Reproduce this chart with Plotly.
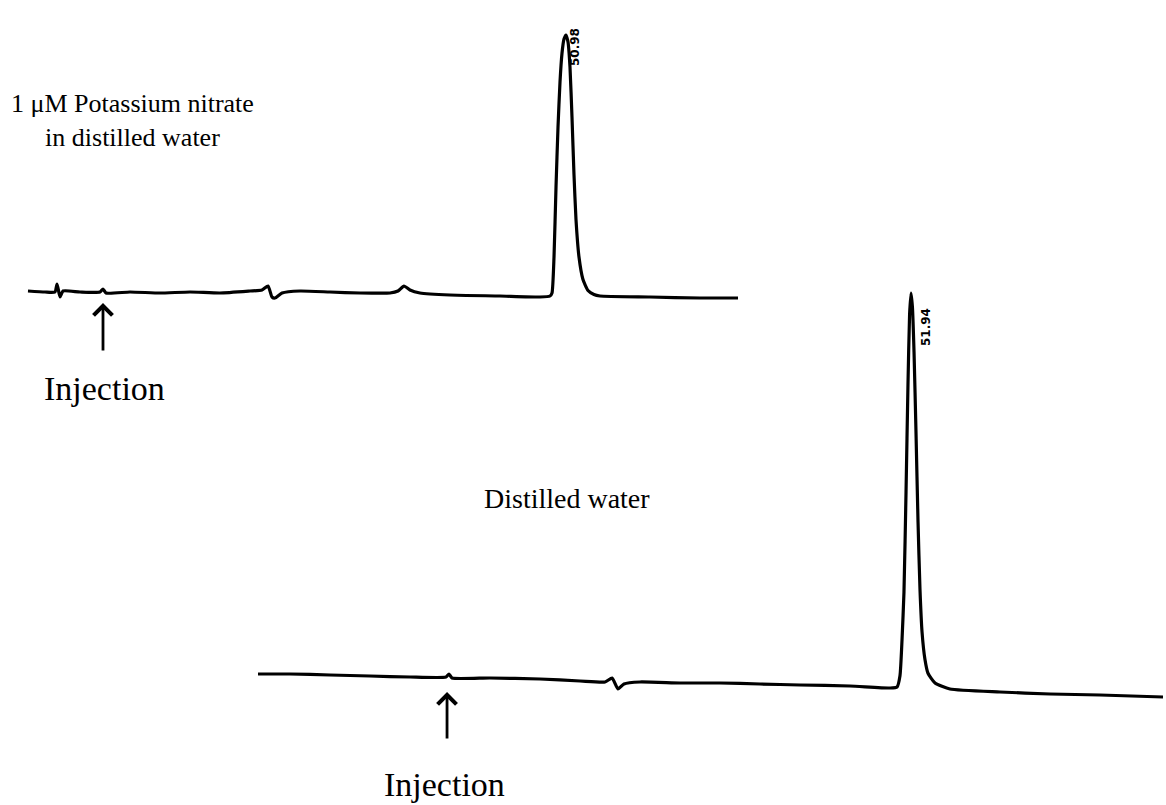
import plotly.graph_objects as go

# Chromatogram 1: 1 uM potassium nitrate in distilled water (time in min after injection, detector signal)
nitrate_time = [-8.26, -6.39, -5.29, -5.06, -4.73, -4.40, -2.53, -0.33, 0.0, 0.33,
                 2.97, 6.28, 9.58, 12.88, 16.19, 17.51, 18.17, 18.61, 18.94, 19.71,
                 21.69, 24.99, 28.30, 31.60, 32.48, 33.14, 33.80, 34.90, 38.21, 43.71,
                 48.12, 49.22, 49.44, 49.66, 49.88, 50.10, 50.32, 50.54, 50.76, 50.98,
                 51.20, 51.42, 51.64, 51.86, 52.08, 52.41, 52.85, 53.40, 54.06, 54.72,
                 60.23, 65.73, 69.92]
nitrate_signal = [0.4, 0.0, 0.0, 3.2, -2.0, 0.4, 0.0, 0.0, 1.2, -0.4,
                  0.0, -0.4, 0.0, -0.4, 0.4, 0.8, 2.4, -2.0, -2.4, -0.4,
                  0.4, 0.0, -0.4, -0.4, 0.4, 2.4, 0.8, -0.4, -1.2, -1.6,
                  -2.0, -1.6, -0.4, 14.0, 42.0, 66.0, 84.0, 95.5, 101.2, 102.8,
                  100.0, 90.0, 70.0, 47.0, 29.0, 14.0, 5.0, 0.6, -1.0, -1.6,
                  -2.0, -2.4, -2.4]

# Chromatogram 2: distilled water blank
water_time = [-21.47, -17.88, -13.38, -8.88, -4.38, -0.34, 0.0, 0.34, 4.61, 10.23,
              14.73, 17.54, 18.33, 19.00, 19.67, 21.47, 25.97, 30.47, 34.96, 39.46,
              45.08, 49.58, 50.37, 50.70, 50.93, 51.15, 51.38, 51.60, 51.78, 51.94,
              52.10, 52.28, 52.50, 52.73, 52.95, 53.18, 53.51, 53.85, 54.64, 56.32,
              61.94, 67.57, 73.19, 80.27]
water_signal = [-0.8, -0.8, -1.2, -1.6, -2.0, -2.0, -0.8, -2.4, -2.4, -2.8,
                -3.6, -4.0, -2.4, -6.8, -4.8, -4.0, -4.4, -4.4, -4.8, -5.2,
                -5.6, -6.4, -6.0, -1.5, 12.8, 32.0, 72.0, 115.0, 143.0, 151.6,
                146.0, 128.0, 96.0, 60.0, 33.0, 16.0, 5.0, -0.5, -4.4, -6.8,
                -8.0, -8.8, -9.2, -10.0]

# Retention times printed beside each peak
nitrate_peak_time = 50.98
water_peak_time = 51.94

serif = "Liberation Serif"
ink = "black"

fig = go.Figure()
fig.add_trace(go.Scatter(x=nitrate_time, y=nitrate_signal, mode="lines",
                         line=dict(color=ink, width=3.2, shape="spline", smoothing=0.5),
                         xaxis="x", yaxis="y", showlegend=False, hoverinfo="skip"))
fig.add_trace(go.Scatter(x=water_time, y=water_signal, mode="lines",
                         line=dict(color=ink, width=3.2, shape="spline", smoothing=0.5),
                         xaxis="x2", yaxis="y2", showlegend=False, hoverinfo="skip"))

hidden = dict(visible=False, showgrid=False, zeroline=False, fixedrange=True)

fig.update_layout(
    width=1166, height=805,
    margin=dict(l=0, r=0, t=0, b=0),
    paper_bgcolor="white", plot_bgcolor="white",
    xaxis=dict(domain=[0, 1], range=[-11.341, 117.045], anchor="y", **hidden),
    yaxis=dict(domain=[0, 1], range=[-205.2, 116.8], anchor="x", **hidden),
    xaxis2=dict(domain=[0, 1], range=[-50.478, 80.607], anchor="y2", overlaying="x", **hidden),
    yaxis2=dict(domain=[0, 1], range=[-53.2, 268.8], anchor="x2", overlaying="y", **hidden),
)

W, H = 1166, 805


def paper_text(text, px, py, size):
    fig.add_annotation(text=text, xref="paper", yref="paper", x=px / W, y=1 - py / H,
                       xanchor="center", yanchor="middle", showarrow=False,
                       align="center", font=dict(family=serif, size=size, color=ink))


paper_text("1 μM Potassium nitrate<br>in distilled water", 132, 120, 26)
paper_text("Injection", 104, 388, 34)
paper_text("Distilled water", 567, 498, 28)
paper_text("Injection", 444, 784, 34)

# Injection arrows
fig.add_annotation(x=0, y=-4.4, xref="x", yref="y", text="", showarrow=True,
                   ax=0, ay=49, arrowhead=4, arrowsize=1.3, arrowwidth=2.8, arrowcolor=ink)
fig.add_annotation(x=-0.22, y=-8.0, xref="x2", yref="y2", text="", showarrow=True,
                   ax=0, ay=48, arrowhead=4, arrowsize=1.3, arrowwidth=2.8, arrowcolor=ink)

# Retention-time labels
fig.add_annotation(x=nitrate_peak_time, y=max(nitrate_signal), xref="x", yref="y",
                   text=f"<b>{nitrate_peak_time:.2f}</b>", showarrow=False, textangle=-90,
                   xshift=9, yshift=-12,
                   font=dict(family="DejaVu Sans", size=12, color=ink))
fig.add_annotation(x=water_peak_time, y=max(water_signal), xref="x2", yref="y2",
                   text=f"<b>{water_peak_time:.2f}</b>", showarrow=False, textangle=-90,
                   xshift=15, yshift=-34,
                   font=dict(family="DejaVu Sans", size=12, color=ink))

fig.write_html("out.html")
